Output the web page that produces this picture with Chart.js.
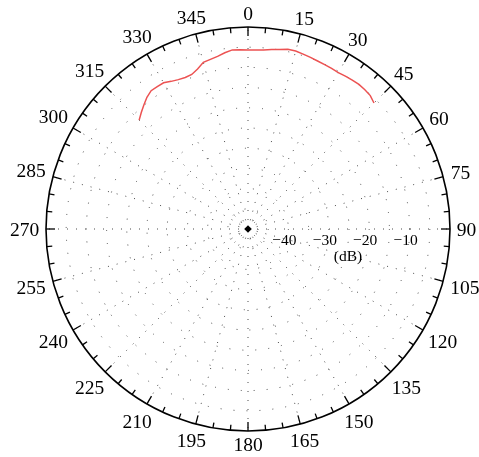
<!DOCTYPE html>
<html>
<head>
<meta charset="utf-8">
<script src="https://cdn.jsdelivr.net/npm/chart.js@4/dist/chart.umd.min.js"></script>
<style>
  html, body { margin: 0; padding: 0; background: #fff; }
  canvas { display: block; }
</style>
</head>
<body>
<canvas id="polar" width="479" height="457"></canvas>
<script>
// Measured pattern: azimuth in degrees (clockwise from 0 at the top) and level in dB
const curveAngles = [315, 317.5, 320, 322.5, 325, 327.5, 330, 332.5, 335, 337.5,
                     340, 342.5, 345, 347.5, 350, 352.5, 355, 357.5,
                     0, 2.5, 5, 7.5, 10, 12.5, 15, 17.5, 20, 22.5, 25, 27.5,
                     30, 32.5, 35, 37.5, 40, 42.5, 45];
const curveLevels = [-11.9, -10.9, -9.9, -8.9, -8.2, -8.2, -8.2, -8.8, -9.2, -9.4,
                     -9.3, -8.5, -7.3, -7.0, -6.6, -6.0, -5.5, -5.6,
                     -5.7, -5.65, -5.5, -5.2, -4.9, -4.45, -4.4, -4.6, -4.8, -5.0, -5.1, -5.2,
                     -5.3, -5.15, -5.0, -4.9, -5.0, -5.2, -5.9];

// Azimuth tick labels around the rim and level labels along the 90° spoke
const azimuthLabels = [0, 15, 30, 45, 60, 75, 90, 105, 120, 135, 150, 165,
                       180, 195, 210, 225, 240, 255, 270, 285, 300, 315, 330, 345];
const levelLabels = [-40, -30, -20, -10];
const gridLevels = [-50, -47.5, -45, -40, -35, -30, -25, -20, -15, -10, -5, 0];
const unitLabel = '(dB)';

const STEP = 2.5;                 // angular resolution of the radar categories
const slots = 360 / STEP;
const categories = [];
const series = [];
for (let i = 0; i < slots; i++) { categories.push(i * STEP); series.push(null); }
curveAngles.forEach((a, k) => { series[Math.round(a / STEP) % slots] = curveLevels[k]; });

const SERIF = "'Liberation Serif', 'DejaVu Serif', serif";

const rimDecor = {
  id: 'rimDecor',
  afterDraw(chart) {
    const s = chart.scales.r;
    const ctx = chart.ctx;
    const cx = s.xCenter, cy = s.yCenter, R = s.drawingArea;
    ctx.save();

    // rim ticks every 5°, longer at the labelled 15° marks
    ctx.strokeStyle = '#000';
    ctx.lineWidth = 1.3;
    for (let a = 0; a < 360; a += 5) {
      const len = a % 15 === 0 ? 9 : 5.5;
      const t = a * Math.PI / 180;
      const dx = Math.sin(t), dy = -Math.cos(t);
      ctx.beginPath();
      ctx.moveTo(cx + dx * R, cy + dy * R);
      ctx.lineTo(cx + dx * (R - len), cy + dy * (R - len));
      ctx.stroke();
    }

    // azimuth labels outside the rim
    ctx.fillStyle = '#000';
    ctx.font = '19.5px ' + SERIF;
    ctx.textAlign = 'center';
    ctx.textBaseline = 'alphabetic';
    const capH = 13.2;
    azimuthLabels.forEach(a => {
      const txt = String(a);
      const w = ctx.measureText(txt).width;
      const t = a * Math.PI / 180;
      const dx = Math.sin(t), dy = -Math.cos(t);
      const d = R + 6.8 + Math.abs(dx) * w / 2 + Math.abs(dy) * capH / 2;
      ctx.fillText(txt, cx + dx * d, cy + dy * d + capH / 2);
    });

    // level labels below the 90° spoke
    ctx.font = '15.5px ' + SERIF;
    levelLabels.forEach(v => {
      const x = cx + s.getDistanceFromCenterForValue(v) - 4;
      ctx.fillText('\u2212' + Math.abs(v), x, cy + 16);
    });
    const xu = (s.getDistanceFromCenterForValue(levelLabels[1]) + s.getDistanceFromCenterForValue(levelLabels[2])) / 2;
    ctx.fillText(unitLabel, cx + xu - 1, cy + 32);

    // centre marker
    ctx.beginPath();
    ctx.moveTo(cx, cy - 3.8);
    ctx.lineTo(cx + 3.8, cy);
    ctx.lineTo(cx, cy + 3.8);
    ctx.lineTo(cx - 3.8, cy);
    ctx.closePath();
    ctx.fill();
    ctx.restore();
  }
};

new Chart(document.getElementById('polar'), {
  type: 'radar',
  data: {
    labels: categories,
    datasets: [{
      data: series,
      borderColor: 'rgb(236, 82, 82)',
      borderWidth: 1.5,
      pointRadius: 0,
      pointHoverRadius: 0,
      fill: false,
      spanGaps: false,
      tension: 0
    }]
  },
  options: {
    responsive: false,
    animation: false,
    devicePixelRatio: 1,
    layout: { padding: { left: 46, right: 29, top: 27, bottom: 26 } },
    plugins: { legend: { display: false }, tooltip: { enabled: false } },
    scales: {
      r: {
        min: -50,
        max: 0,
        startAngle: 0,
        afterBuildTicks: scale => { scale.ticks = gridLevels.map(v => ({ value: v })); },
        ticks: { display: false },
        pointLabels: { display: false },
        grid: {
          circular: true,
          color: c => (c.tick && c.tick.value === 0) ? '#000' : '#4a4a4a',
          lineWidth: c => (c.tick && c.tick.value === 0) ? 1.6 : 1
        },
        border: {
          dash: c => (c.tick && c.tick.value === 0) ? [] : [1, 12]
        },
        angleLines: {
          display: true,
          color: '#4a4a4a',
          lineWidth: c => (c.index % (15 / STEP) === 0) ? 1 : 0,
          borderDash: [1, 8]
        }
      }
    }
  },
  plugins: [rimDecor]
});
</script>
</body>
</html>
